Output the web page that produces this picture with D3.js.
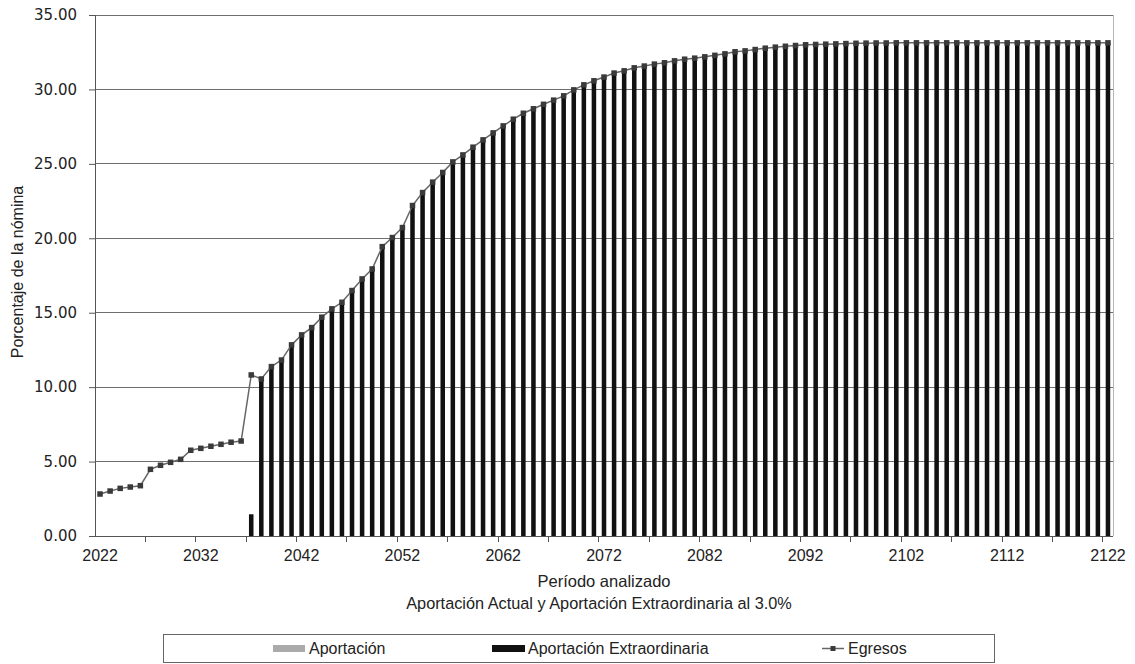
<!DOCTYPE html>
<html><head><meta charset="utf-8">
<script src="https://cdn.jsdelivr.net/npm/d3@7"></script>
<style>
html,body{margin:0;padding:0;background:#fff;}
svg{display:block;font-family:"Liberation Sans",Arial,sans-serif;}
</style></head>
<body><svg id="chart" width="1135" height="664"></svg>
<script>
const years = d3.range(2022, 2123);
const xTickLabels = ["2022","2032","2042","2052","2062","2072","2082","2092","2102","2112","2122"];
const yTickValues = [0,5,10,15,20,25,30,35];

const egresos = [
 2.82,3.02,3.20,3.29,3.38,4.48,4.75,4.95,5.15,5.76,
 5.89,6.03,6.16,6.30,6.38,10.82,10.55,11.38,11.82,12.84,
 13.51,14.00,14.70,15.26,15.70,16.49,17.27,17.94,19.44,20.05,
 20.72,22.20,23.07,23.77,24.42,25.13,25.60,26.12,26.61,27.08,
 27.55,28.00,28.40,28.70,29.00,29.28,29.57,29.97,30.31,30.58,
 30.83,31.10,31.25,31.45,31.57,31.70,31.79,31.92,32.03,32.10,
 32.19,32.29,32.39,32.53,32.59,32.68,32.77,32.84,32.90,32.95,
 33.00,33.02,33.04,33.06,33.08,33.10,33.11,33.12,33.12,33.13,
 33.13,33.13,33.13,33.13,33.13,33.13,33.13,33.13,33.13,33.13,
 33.13,33.13,33.13,33.13,33.13,33.13,33.13,33.13,33.13,33.13,
 33.13
];
const aportacionExtra = [
 0,0,0,0,0,0,0,0,0,0,
 0,0,0,0,0,1.46,10.55,11.38,11.82,12.84,
 13.51,14.00,14.70,15.26,15.70,16.49,17.27,17.94,19.44,20.05,
 20.72,22.20,23.07,23.77,24.42,25.13,25.60,26.12,26.61,27.08,
 27.55,28.00,28.40,28.70,29.00,29.28,29.57,29.97,30.31,30.58,
 30.83,31.10,31.25,31.45,31.57,31.70,31.79,31.92,32.03,32.10,
 32.19,32.29,32.39,32.53,32.59,32.68,32.77,32.84,32.90,32.95,
 33.00,33.02,33.04,33.06,33.08,33.10,33.11,33.12,33.12,33.13,
 33.13,33.13,33.13,33.13,33.13,33.13,33.13,33.13,33.13,33.13,
 33.13,33.13,33.13,33.13,33.13,33.13,33.13,33.13,33.13,33.13,
 33.13
];
const aportacion = [
 0,0,0,0,0,0,0,0,0,0, 0,0,0,0,0,0,0,0,0,0,
 0,0,0,0,0,0,0,0,0,0, 0,0,0,0,0,0,0,0,0,0,
 0,0,0,0,0,0,0,0,0,0, 0,0,0,0,0,0,0,0,0,0,
 0,0,0,0,0,0,0,0,0,0, 0,0,0,0,0,0,0,0,0,0,
 0,0,0,0,0,0,0,0,0,0, 0,0,0,0,0,0,0,0,0,0,
 0
];

const svg = d3.select("#chart");
const L = 95, R = 1113, T = 15, B = 536;

const x = d3.scaleBand().domain(years).range([L, R]).paddingInner(0.55).paddingOuter(0.275);
const xc = d3.scaleBand().domain(years).range([L, R]).padding(0);
const y = d3.scaleLinear().domain([0, 35]).range([B, T]);

// gridlines
svg.append("g").selectAll("line").data(yTickValues.filter(v => v > 0)).join("line")
  .attr("x1", L).attr("x2", R).attr("y1", d => y(d)).attr("y2", d => y(d))
  .attr("stroke", "#6e6e6e").attr("stroke-width", 1).attr("shape-rendering", "crispEdges");
// right border
svg.append("line").attr("x1", R).attr("x2", R).attr("y1", T).attr("y2", B)
  .attr("stroke", "#b5b5b5").attr("shape-rendering", "crispEdges");

// stacked bars
const table = years.map((yr, i) => ({year: yr, aportacion: aportacion[i], extra: aportacionExtra[i]}));
const stack = d3.stack().keys(["aportacion", "extra"])(table);
const colors = {aportacion: "#aaaaaa", extra: "#111111"};
svg.append("g").selectAll("g").data(stack).join("g")
  .attr("fill", d => colors[d.key])
  .selectAll("rect").data(d => d.filter(p => p[1] - p[0] > 0)).join("rect")
  .attr("x", d => x(d.data.year)).attr("width", x.bandwidth())
  .attr("y", d => y(d[1])).attr("height", d => y(d[0]) - y(d[1]));

// y axis
const yAxis = d3.axisLeft(y).tickValues(yTickValues).tickFormat(d3.format(".2f")).tickSize(6).tickPadding(12);
const gy = svg.append("g").attr("transform", `translate(${L},0)`).call(yAxis);
gy.select(".domain").attr("stroke", "#555");
gy.selectAll(".tick line").attr("stroke", "#555");
gy.selectAll("text").attr("fill", "#222").attr("font-family", "'DejaVu Sans',sans-serif").attr("font-size", 15);

// x axis: ticks every 5 categories at boundaries
const tickYears = years.filter((d, i) => i % 5 === 0 && i > 0);
svg.append("line").attr("x1", L).attr("x2", R).attr("y1", B).attr("y2", B).attr("stroke", "#555").attr("shape-rendering", "crispEdges");
svg.append("g").selectAll("line").data(tickYears).join("line")
  .attr("x1", d => xc(d)).attr("x2", d => xc(d)).attr("y1", B).attr("y2", B + 6)
  .attr("stroke", "#555").attr("shape-rendering", "crispEdges");
svg.append("g").selectAll("text").data(xTickLabels).join("text")
  .attr("x", d => xc(+d) + xc.bandwidth() / 2).attr("y", 561)
  .attr("text-anchor", "middle").attr("font-size", 16).attr("fill", "#222").text(d => d);

// line
const line = d3.line().x((d, i) => xc(years[i]) + xc.bandwidth() / 2).y(d => y(d));
svg.append("path").datum(egresos).attr("d", line).attr("fill", "none").attr("stroke", "#666").attr("stroke-width", 1.5);
svg.append("g").selectAll("rect").data(egresos).join("rect")
  .attr("x", (d, i) => xc(years[i]) + xc.bandwidth() / 2 - 2.75).attr("y", d => y(d) - 2.75)
  .attr("width", 5.5).attr("height", 5.5).attr("fill", "#3a3a3a");

// titles
svg.append("text").attr("transform", "translate(23,272) rotate(-90)").attr("text-anchor", "middle")
  .attr("font-size", 16).attr("fill", "#222").text("Porcentaje de la nómina");
svg.append("text").attr("x", 604).attr("y", 587).attr("text-anchor", "middle")
  .attr("font-size", 16.5).attr("fill", "#222").text("Período analizado");
svg.append("text").attr("x", 599).attr("y", 609).attr("text-anchor", "middle")
  .attr("font-size", 16.3).attr("fill", "#222").text("Aportación Actual y Aportación Extraordinaria al 3.0%");

// legend
const lg = svg.append("g");
lg.append("rect").attr("x", 163.5).attr("y", 634.5).attr("width", 831).attr("height", 28)
  .attr("fill", "#fff").attr("stroke", "#666");
lg.append("rect").attr("x", 273).attr("y", 645).attr("width", 32).attr("height", 7).attr("fill", colors.aportacion);
lg.append("text").attr("x", 309).attr("y", 654).attr("font-size", 16).attr("fill", "#222").text("Aportación");
lg.append("rect").attr("x", 492).attr("y", 645).attr("width", 33).attr("height", 7).attr("fill", colors.extra);
lg.append("text").attr("x", 528).attr("y", 654).attr("font-size", 16).attr("fill", "#222").text("Aportación Extraordinaria");
lg.append("line").attr("x1", 822).attr("x2", 844).attr("y1", 648.5).attr("y2", 648.5).attr("stroke", "#666").attr("stroke-width", 1.5);
lg.append("rect").attr("x", 830.5).attr("y", 646).attr("width", 5).attr("height", 5).attr("fill", "#3a3a3a");
lg.append("text").attr("x", 848).attr("y", 654).attr("font-size", 16).attr("fill", "#222").text("Egresos");
</script></body></html>
